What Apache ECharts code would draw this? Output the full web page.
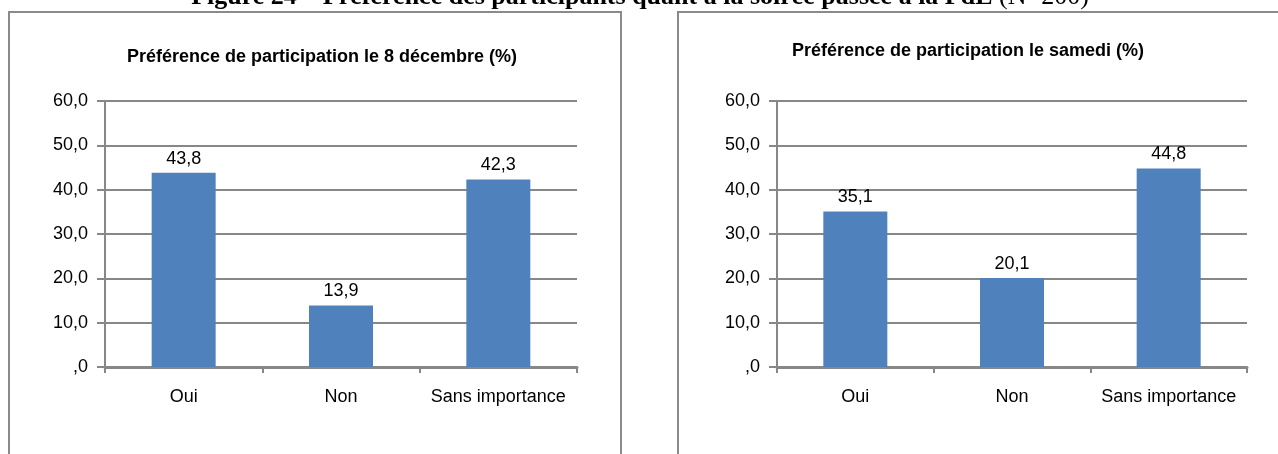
<!DOCTYPE html>
<html>
<head>
<meta charset="utf-8">
<script src="https://cdn.jsdelivr.net/npm/echarts@6/dist/echarts.min.js"></script>
<style>
  html, body { margin: 0; padding: 0; background: #fff; }
  #chart { width: 1278px; height: 454px; }
</style>
</head>
<body>
<div id="chart"></div>
<script>
// categories and values
const categories = ['Oui', 'Non', 'Sans importance']
const decembreValues = [43.8, 13.9, 42.3]
const samediValues = [35.1, 20.1, 44.8]
const decembreTitle = 'Préférence de participation le 8 décembre (%)'
const samediTitle = 'Préférence de participation le samedi (%)'
const captionBold = 'Figure 24 – Préférence des participants quant à la soirée passée à la FdE '
const captionPlain = '(N=200)'

const FONT = '"Liberation Sans", Arial, sans-serif'
const SERIF = '"Liberation Serif", "Times New Roman", serif'
const GRID_COLOR = '#878787'
const BAR_COLOR = '#4F81BD'

// Excel-style comma decimals, zero shown as ",0"
function frNum(v) {
  if (v === 0) return ',0'
  return v.toFixed(1).replace('.', ',')
}

const chart = echarts.init(document.getElementById('chart'))

function makeYAxis(gridIndex) {
  return {
    type: 'value',
    gridIndex: gridIndex,
    min: 0,
    max: 60,
    interval: 10,
    axisLine: { show: true, lineStyle: { color: GRID_COLOR, width: 2 } },
    axisTick: { show: true, inside: false, length: 8, lineStyle: { color: GRID_COLOR, width: 2 } },
    axisLabel: { color: '#000', fontFamily: FONT, fontSize: 18, margin: 17, formatter: frNum },
    splitLine: { show: true, lineStyle: { color: GRID_COLOR, width: 2 } }
  }
}

function makeXAxis(gridIndex) {
  return {
    type: 'category',
    gridIndex: gridIndex,
    data: categories,
    axisLine: { show: true, lineStyle: { color: GRID_COLOR, width: 3 } },
    axisTick: { show: true, alignWithLabel: false, length: 6, lineStyle: { color: GRID_COLOR, width: 2 } },
    axisLabel: { color: '#000', fontFamily: FONT, fontSize: 18, margin: 21, interval: 0 }
  }
}

function makeSeries(data, idx) {
  return {
    type: 'bar',
    xAxisIndex: idx,
    yAxisIndex: idx,
    data: data,
    barWidth: 64,
    itemStyle: { color: BAR_COLOR },
    label: {
      show: true,
      position: 'top',
      distance: 5,
      color: '#000',
      fontFamily: FONT,
      fontSize: 18,
      formatter: p => frNum(p.value)
    }
  }
}

const option = {
  animation: false,
  grid: [
    { left: 105, right: 701, top: 101, bottom: 87, containLabel: false },
    { left: 777, right: 31, top: 101, bottom: 87, containLabel: false }
  ],
  xAxis: [makeXAxis(0), makeXAxis(1)],
  yAxis: [makeYAxis(0), makeYAxis(1)],
  series: [makeSeries(decembreValues, 0), makeSeries(samediValues, 1)],
  graphic: [
    // chart frames
    { type: 'rect', shape: { x: 9, y: 12, width: 612, height: 460 }, style: { fill: 'none', stroke: '#8a8a8a', lineWidth: 2 }, z: -1 },
    { type: 'rect', shape: { x: 678, y: 12, width: 640, height: 460 }, style: { fill: 'none', stroke: '#8a8a8a', lineWidth: 2 }, z: -1 },
    // chart titles
    { type: 'text', x: 322, y: 57, style: { text: decembreTitle, fill: '#000', font: 'bold 18px ' + FONT, textAlign: 'center', textVerticalAlign: 'middle' } },
    { type: 'text', x: 968, y: 51, style: { text: samediTitle, fill: '#000', font: 'bold 18px ' + FONT, textAlign: 'center', textVerticalAlign: 'middle' } },
    // figure caption, cut at the top of the page
    {
      type: 'text', x: 640, y: -3,
      style: {
        text: '{b|' + captionBold + '}{n|' + captionPlain + '}',
        textAlign: 'center',
        textVerticalAlign: 'middle',
        rich: {
          b: { fontFamily: SERIF, fontWeight: 'bold', fontSize: 26, fill: '#000' },
          n: { fontFamily: SERIF, fontSize: 26, fill: '#000' }
        }
      }
    }
  ]
}

chart.setOption(option)
</script>
</body>
</html>
